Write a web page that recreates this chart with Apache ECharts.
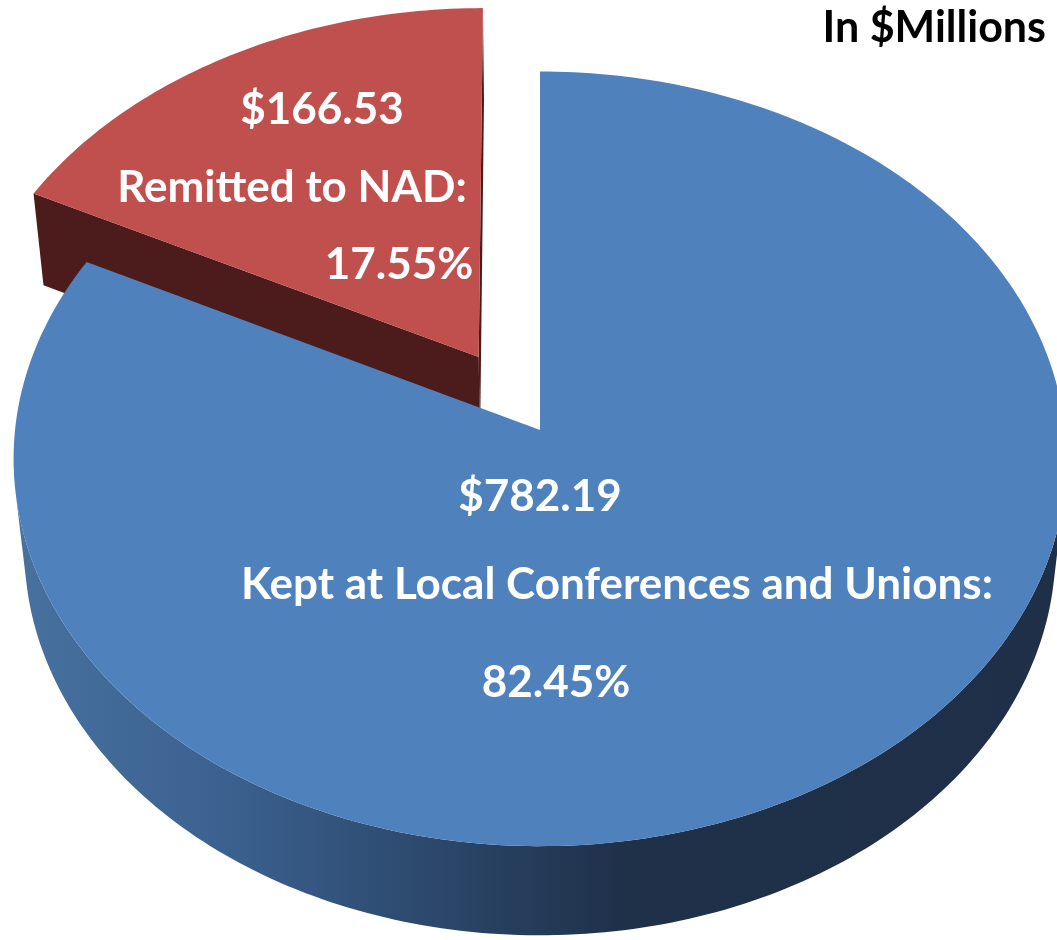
<!DOCTYPE html>
<html lang="en">
<head>
    <meta charset="UTF-8">
    <title>In $Millions</title>
    <script src="https://cdn.jsdelivr.net/npm/echarts@6.0.0/dist/echarts.min.js"></script>
    <style>
        html, body {
            margin: 0;
            padding: 0;
            background: #fff;
        }
        #main {
            width: 1057px;
            height: 940px;
        }
    </style>
</head>
<body>
<div id="main"></div>
<script>
    // data, in $ millions
    var categories = ['Kept at Local Conferences and Unions:', 'Remitted to NAD:'];
    var amounts = [782.19, 166.53];

    var total = amounts.reduce(function (s, v) { return s + v; }, 0);
    var before = [];
    amounts.reduce(function (s, v) { before.push(s); return s + v; }, 0);

    // 3d view of the pie (radius = 1 in world units)
    var CX = 540, CY = 430;      // screen point of the pie centre
    var F = 4793, DIST = 9.13;   // focal length, camera distance
    var TILT = 47.2 * Math.PI / 180;
    var SN = Math.sin(TILT), CS = Math.cos(TILT);
    var THICK = 0.261;
    var startAngle = 90;
    var explode = [0, 0.226];

    var topColors = ['#4f81bd', '#c0504d'];
    var edgeColors = ['#2a4569', '#4c1c1c'];
    var wallColors = [
        [[0, '#47719f'], [0.2, '#3b6190'], [0.42, '#2a4567'], [0.58, '#1f3049'], [1, '#1e2f47']],
        [[0, '#5a2222'], [1, '#3e1616']]
    ];
    // label line centres
    var labelPos = [
        [[540, 497], [617, 585], [556, 683]],
        [[322, 110], [292, 188], [399, 265]]
    ];

    // world (x right, y far, z up) -> screen
    function proj(x, y, z) {
        var yc = y * SN + z * CS;
        var zc = DIST + y * CS - z * SN;
        return [CX + F * x / zc, CY - F * yc / zc];
    }

    var camY = -DIST * CS;

    function renderItem(params, api) {
        var i = params.dataIndex;
        var v = api.value(0);
        var a0 = startAngle - before[i] / total * 360;
        var a1 = a0 - v / total * 360;
        var mid = (a0 + a1) / 2 * Math.PI / 180;
        var ox = explode[i] * Math.cos(mid), oy = explode[i] * Math.sin(mid);
        var children = [];

        var n = Math.ceil(Math.abs(a1 - a0)) + 1;
        var angs = [];
        for (var k = 0; k <= n; k++) {
            angs.push((a0 + (a1 - a0) * k / n) * Math.PI / 180);
        }

        // outer wall, only the parts turned to the camera
        var run = [];
        function flush() {
            if (run.length > 1) {
                var top = run.map(function (t) { return proj(ox + Math.cos(t), oy + Math.sin(t), 0); });
                var bot = run.map(function (t) { return proj(ox + Math.cos(t), oy + Math.sin(t), -THICK); }).reverse();
                children.push({
                    type: 'polygon',
                    z2: 1,
                    shape: {points: top.concat(bot)},
                    style: {
                        fill: new echarts.graphic.LinearGradient(0, 0, 1, 0, wallColors[i].map(function (c) {
                            return {offset: c[0], color: c[1]};
                        }))
                    }
                });
            }
            run = [];
        }
        angs.forEach(function (t) {
            var dot = -ox * Math.cos(t) - oy * Math.sin(t) - 1 - DIST * CS * Math.sin(t);
            if (dot > 0) run.push(t); else flush();
        });
        flush();

        // cut faces of the slice
        [[a0, 1], [a1, -1]].forEach(function (e) {
            var t = e[0] * Math.PI / 180;
            var nx = -Math.sin(t) * e[1], ny = Math.cos(t) * e[1];
            var dot = nx * (0 - ox) + ny * (camY - oy);
            if (v < total && dot > 0) {
                children.push({
                    type: 'polygon',
                    z2: 2,
                    shape: {
                        points: [
                            proj(ox, oy, 0),
                            proj(ox + Math.cos(t), oy + Math.sin(t), 0),
                            proj(ox + Math.cos(t), oy + Math.sin(t), -THICK),
                            proj(ox, oy, -THICK)
                        ]
                    },
                    style: {fill: edgeColors[i]}
                });
            }
        });

        // top face
        var pts = [proj(ox, oy, 0)];
        angs.forEach(function (t) { pts.push(proj(ox + Math.cos(t), oy + Math.sin(t), 0)); });
        children.push({
            type: 'polygon',
            z2: 5,
            shape: {points: pts},
            style: {fill: topColors[i]}
        });

        // labels
        var lines = ['$' + v.toFixed(2), categories[i], (v / total * 100).toFixed(2) + '%'];
        lines.forEach(function (s, k) {
            children.push({
                type: 'text',
                z2: 10,
                x: labelPos[i][k][0],
                y: labelPos[i][k][1],
                style: {
                    text: s,
                    fill: '#ffffff',
                    font: 'bold 44px Lato',
                    align: 'center',
                    verticalAlign: 'middle'
                }
            });
        });

        return {type: 'group', children: children};
    }

    var myChart = echarts.init(document.getElementById('main'));
    var option = {
        animation: false,
        title: {
            text: 'In $Millions',
            right: 6,
            top: 2,
            textStyle: {
                color: '#000',
                fontFamily: 'Lato',
                fontWeight: 'bold',
                fontSize: 43
            }
        },
        series: [{
            type: 'custom',
            coordinateSystem: 'none',
            silent: true,
            renderItem: renderItem,
            data: amounts.map(function (v, i) { return [v, i]; })
        }]
    };
    myChart.setOption(option);
</script>
</body>
</html>
